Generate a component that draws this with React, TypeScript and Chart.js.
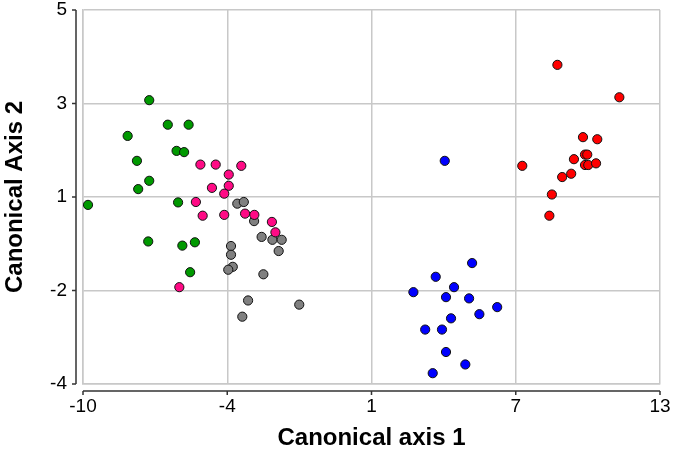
import React, { useEffect, useRef } from "react";
import { Chart, registerables } from "chart.js";

Chart.register(...registerables);

const xRange = [-10, 13];
const yRange = [-4, 5];
const xTickLabels = ["-10", "-4", "1", "7", "13"];
const yTickLabels = ["-4", "-2", "1", "3", "5"];

const greenX = [-7.36, -6.62, -5.79, -8.22, -6.27, -5.97, -7.85, -7.36, -7.8, -9.8, -6.21, -7.4, -6.04, -5.54, -5.73];
const greenY = [2.83, 2.24, 2.24, 1.97, 1.61, 1.58, 1.37, 0.89, 0.69, 0.31, 0.37, -0.57, -0.67, -0.59, -1.31];

const pinkX = [-5.32, -4.71, -3.69, -4.19, -4.86, -4.19, -4.37, -5.5, -5.23, -4.37, -3.54, -3.17, -2.47, -2.33, -6.16];
const pinkY = [1.28, 1.28, 1.25, 1.04, 0.72, 0.77, 0.58, 0.38, 0.05, 0.07, 0.1, 0.07, -0.1, -0.35, -1.67];

const grayX = [-3.85, -3.59, -3.18, -2.88, -2.45, -2.08, -2.2, -4.1, -4.1, -4.03, -4.21, -2.81, -3.42, -1.38, -3.65];
const grayY = [0.34, 0.38, -0.08, -0.46, -0.53, -0.53, -0.8, -0.68, -0.89, -1.18, -1.25, -1.36, -1.99, -2.09, -2.38];

const blueX = [4.42, 5.51, 4.06, 4.79, 3.17, 4.47, 5.39, 6.51, 5.8, 4.67, 3.64, 4.31, 4.47, 5.24, 3.94];
const blueY = [1.37, -1.09, -1.42, -1.67, -1.79, -1.91, -1.94, -2.15, -2.32, -2.42, -2.69, -2.69, -3.23, -3.53, -3.74];

const redX = [8.91, 11.38, 9.93, 10.5, 10.01, 10.1, 9.57, 10.01, 10.14, 10.45, 7.51, 9.46, 9.1, 8.69, 8.59];
const redY = [3.68, 2.9, 1.94, 1.89, 1.52, 1.52, 1.41, 1.27, 1.27, 1.31, 1.25, 1.06, 0.98, 0.56, 0.05];

const toPoints = (xs: number[], ys: number[]) => xs.map((x, i) => ({ x, y: ys[i] }));

const evenTicks = (range: number[], n: number) =>
  Array.from({ length: n }, (_, i) => ({ value: range[0] + (i * (range[1] - range[0])) / (n - 1) }));

const zeroPadding = (s: any) => {
  s.paddingTop = 0;
  s.paddingBottom = 0;
  s.paddingLeft = 0;
  s.paddingRight = 0;
};

const GRID = "#c8c8c8";
const AXIS = "#333333";
const FONT = "'Liberation Sans', Arial, sans-serif";

const offsetAxes = {
  id: "offsetAxes",
  afterDraw(chart: any) {
    const { ctx, chartArea, scales } = chart;
    const xs = scales.x;
    const ys = scales.y;
    const gap = 7;
    const tick = 4;
    ctx.save();
    ctx.strokeStyle = AXIS;
    ctx.lineWidth = 1.5;
    const ax = chartArea.left - gap;
    ctx.beginPath();
    ctx.moveTo(ax, chartArea.top);
    ctx.lineTo(ax, chartArea.bottom);
    ys.ticks.forEach((t: any) => {
      const py = ys.getPixelForValue(t.value);
      ctx.moveTo(ax, py);
      ctx.lineTo(ax - tick, py);
    });
    ctx.stroke();
    const ay = chartArea.bottom + gap;
    ctx.beginPath();
    ctx.moveTo(chartArea.left, ay);
    ctx.lineTo(chartArea.right, ay);
    xs.ticks.forEach((t: any) => {
      const px = xs.getPixelForValue(t.value);
      ctx.moveTo(px, ay);
      ctx.lineTo(px, ay + tick);
    });
    ctx.stroke();
    ctx.restore();
  },
};

export default function App() {
  const ref = useRef<HTMLCanvasElement>(null);

  useEffect(() => {
    document.body.style.margin = "0";
    const ds = (label: string, xs: number[], ys: number[], color: string) => ({
      label,
      data: toPoints(xs, ys),
      backgroundColor: color,
      borderColor: "#111111",
      borderWidth: 1,
      pointRadius: 4.6,
    });
    const chart = new Chart(ref.current!, {
      type: "scatter",
      data: {
        datasets: [
          ds("Red", redX, redY, "#ff0000"),
          ds("Blue", blueX, blueY, "#0000ff"),
          ds("Pink", pinkX, pinkY, "#ff0a85"),
          ds("Gray", grayX, grayY, "#808080"),
          ds("Green", greenX, greenY, "#009900"),
        ],
      },
      options: {
        animation: false,
        responsive: false,
        devicePixelRatio: 1,
        layout: { padding: { top: 10, right: 13, left: 0, bottom: 0 } },
        plugins: { legend: { display: false }, tooltip: { enabled: false } },
        scales: {
          x: {
            type: "linear",
            min: xRange[0],
            max: xRange[1],
            afterBuildTicks: (s: any) => {
              s.ticks = evenTicks(xRange, xTickLabels.length);
            },
            afterFit: (s: any) => {
              s.height = 66;
              zeroPadding(s);
            },
            grid: { color: GRID, lineWidth: 1.5, drawTicks: false },
            border: { display: true, color: GRID, width: 1.5 },
            ticks: {
              padding: 13,
              color: "#000",
              font: { family: FONT, size: 19, lineHeight: 1 },
              maxRotation: 0,
              callback: (_v: any, i: number) => xTickLabels[i],
            },
            title: {
              display: true,
              text: "Canonical axis 1",
              color: "#000",
              font: { family: FONT, size: 24, weight: "bold", lineHeight: 1 },
              padding: { top: 0, bottom: 0 },
            },
          },
          y: {
            type: "linear",
            min: yRange[0],
            max: yRange[1],
            afterBuildTicks: (s: any) => {
              s.ticks = evenTicks(yRange, yTickLabels.length);
            },
            afterFit: (s: any) => {
              s.width = 83;
              zeroPadding(s);
            },
            grid: { color: GRID, lineWidth: 1.5, drawTicks: false },
            border: { display: true, color: GRID, width: 1.5 },
            ticks: {
              padding: 16,
              color: "#000",
              font: { family: FONT, size: 19, lineHeight: 1 },
              callback: (_v: any, i: number) => yTickLabels[i],
            },
            title: {
              display: true,
              text: "Canonical Axis 2",
              color: "#000",
              font: { family: FONT, size: 24, weight: "bold", lineHeight: 1 },
              padding: { top: 3, bottom: 0 },
            },
          },
        },
      },
      plugins: [offsetAxes],
    });
    return () => chart.destroy();
  }, []);

  return (
    <div style={{ width: 673, height: 450 }}>
      <canvas ref={ref} width={673} height={450} style={{ display: "block" }} />
    </div>
  );
}
